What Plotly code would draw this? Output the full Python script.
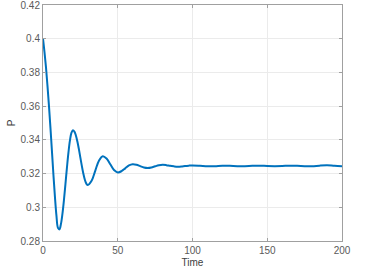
import plotly.graph_objects as go

time = [0, 1, 2, 3, 4, 5, 6, 7, 8, 9, 10, 11, 12, 13, 14, 15, 16, 17, 18, 19, 20,
        21, 22, 23, 24, 25, 26, 27, 28, 29, 30,
        32.5, 35, 37.5, 40, 42.5, 45, 47.5, 50, 52.5, 55, 57.5, 60,
        62.5, 65, 67.5, 70, 72.5, 75, 77.5, 80, 82.5, 85, 87.5, 90,
        92.5, 95, 97.5, 100,
        105, 110, 115, 120, 125, 130, 135, 140, 145, 150,
        155, 160, 165, 170, 175, 180, 185, 190, 195, 200]
p_vals = [0.400, 0.392, 0.383, 0.372, 0.360, 0.347, 0.333, 0.319, 0.306, 0.295, 0.2878,
          0.2869, 0.2901, 0.2961, 0.3042, 0.3136, 0.3234, 0.3323, 0.3395, 0.3441, 0.3457,
          0.3449, 0.3426, 0.3390, 0.3345, 0.3295, 0.3244, 0.3199, 0.3163, 0.3140, 0.3132,
          0.3157, 0.3218, 0.3278, 0.3303, 0.3289, 0.3255, 0.3221, 0.3207, 0.3214, 0.3231, 0.3248, 0.3255,
          0.3252, 0.3244, 0.3236, 0.3233, 0.3236, 0.3243, 0.3249, 0.3252, 0.3250, 0.3246, 0.3243, 0.3241,
          0.3242, 0.3245, 0.3247, 0.3248,
          0.3246, 0.3243, 0.3244, 0.3247, 0.3246, 0.3244, 0.3244, 0.3246, 0.3247, 0.3245,
          0.3244, 0.3245, 0.3247, 0.3246, 0.3244, 0.3243, 0.3247, 0.3249, 0.3246, 0.3244]

x_ticks = [0, 50, 100, 150, 200]
y_ticks = [0.28, 0.3, 0.32, 0.34, 0.36, 0.38, 0.4, 0.42]
y_tick_labels = ["0.28", "0.3", "0.32", "0.34", "0.36", "0.38", "0.4", "0.42"]

fig = go.Figure()
fig.add_trace(go.Scatter(x=time, y=p_vals, mode="lines",
                         line=dict(color="#0072BD", width=2, shape="spline", smoothing=1),
                         showlegend=False, hoverinfo="skip"))

font_family = "Liberation Sans, Arial, sans-serif"
axis_common = dict(showline=True, linecolor="#a0a0a0", linewidth=1, mirror="ticks",
                   ticks="inside", ticklen=3, tickcolor="#a0a0a0", automargin=False,
                   ticklabeloverflow="allow",
                   showgrid=True, gridcolor="#ebebeb", gridwidth=1, zeroline=False,
                   tickfont=dict(family=font_family, size=10, color="#5a5a5a"))

fig.update_xaxes(range=[0, 200.0001], tickvals=x_ticks, **axis_common,
                 title=dict(text="Time", standoff=3,
                            font=dict(family=font_family, size=10, color="#404040")))
fig.update_yaxes(range=[0.28, 0.420001], tickvals=y_ticks, ticktext=y_tick_labels, **axis_common,
                 title=dict(text="P", standoff=3,
                            font=dict(family=font_family, size=10, color="#404040")))

fig.update_layout(width=365, height=274, margin=dict(l=43, r=23, t=5, b=33),
                  plot_bgcolor="white", paper_bgcolor="white")

fig.write_html("out.html", config={"displayModeBar": False, "staticPlot": True},
               post_script="document.body.style.margin='0';document.body.style.overflow='hidden';")
